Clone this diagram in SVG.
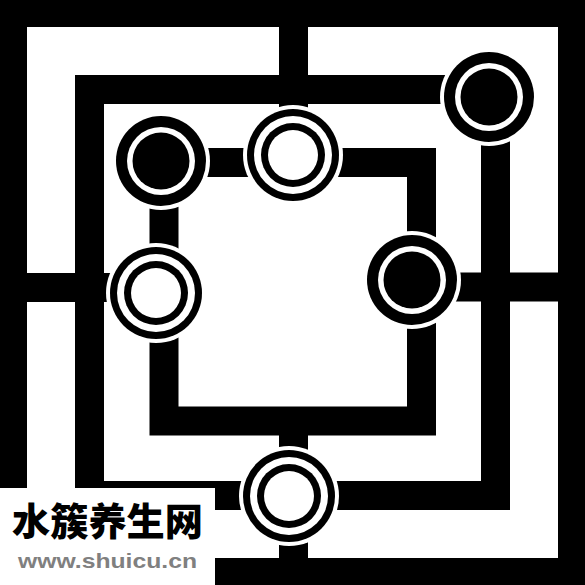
<svg xmlns="http://www.w3.org/2000/svg" width="585" height="585" viewBox="0 0 585 585">
  <style>
    .band { fill: none; stroke: #000; stroke-width: 29; }
    .halo { fill: #fff; }
    .blk { fill: #000; }
    .wht { fill: #fff; }
    .cn { font-family: "Noto Sans CJK SC", "Noto Sans CJK TC", sans-serif; font-weight: 900; font-size: 38px; fill: #000; }
    .url { font-family: "Liberation Sans", Arial, sans-serif; font-weight: bold; font-size: 21px; fill: #808080; }
  </style>
  <defs>
    <g id="nodeDark">
      <circle class="halo" r="49"/>
      <circle class="blk" r="45"/>
      <circle class="wht" r="34"/>
      <circle class="blk" r="28.5"/>
    </g>
    <g id="nodeLight">
      <circle class="halo" r="50"/>
      <circle class="blk" r="46"/>
      <circle class="wht" r="39"/>
      <circle class="blk" r="32"/>
      <circle class="wht" r="25"/>
    </g>
  </defs>

  <rect id="frame" x="0" y="0" width="585" height="585" fill="#000"/>
  <rect x="27" y="27" width="531" height="531" fill="#fff"/>

  <g id="connectors">
    <rect class="band" x="89.5" y="89.5" width="406" height="406"/>
    <rect class="band" x="164" y="162.5" width="257.5" height="258.5"/>
    <line class="band" x1="293.5" y1="0" x2="293.5" y2="163"/>
    <line class="band" x1="293.5" y1="421" x2="293.5" y2="585"/>
    <line class="band" x1="0" y1="287.5" x2="164" y2="287.5"/>
    <line class="band" x1="421" y1="287" x2="585" y2="287"/>
  </g>

  <g id="node-top-left"><use href="#nodeDark" x="161" y="161"/></g>
  <g id="node-top-right"><use href="#nodeDark" x="489" y="97"/></g>
  <g id="node-right"><use href="#nodeDark" x="412" y="280"/></g>
  <g id="node-top"><use href="#nodeLight" x="293" y="155"/></g>
  <g id="node-left"><use href="#nodeLight" x="156" y="293"/></g>
  <g id="node-bottom"><use href="#nodeLight" x="289" y="496"/></g>

  <g id="watermark">
    <rect x="0" y="488" width="215" height="97" fill="#fff"/>
    <text class="cn" x="12" y="535" textLength="191" lengthAdjust="spacingAndGlyphs">水簇养生网</text>
    <text class="url" x="18" y="568" textLength="179" lengthAdjust="spacingAndGlyphs">www.shuicu.cn</text>
  </g>
</svg>
